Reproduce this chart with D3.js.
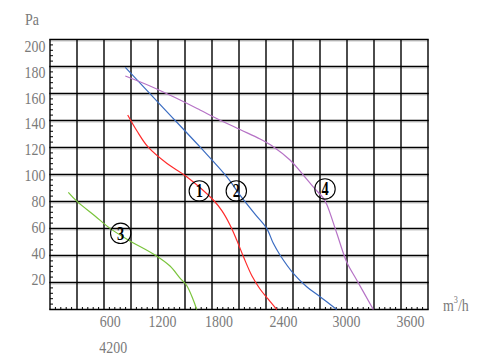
<!DOCTYPE html>
<html>
<head>
<meta charset="utf-8">
<script src="https://cdn.jsdelivr.net/npm/d3@7/dist/d3.min.js"></script>
<style>
  html, body { margin: 0; padding: 0; background: #fff; }
  svg { display: block; }
  text { font-family: "Liberation Serif", "Times New Roman", serif; }
</style>
</head>
<body>
<svg id="chart" width="489" height="360"></svg>
<script>
// ---------------- data ----------------
const xTickLabels = [600, 1200, 1800, 2400, 3000, 3600];
const yTickLabels = [20, 40, 60, 80, 100, 120, 140, 160, 180, 200];
const extraXLabel = "4200";
const yUnit = "Pa";
const xUnit = "m";

const curve1 = [ // red ①
  [777,144.1],[870,132.2],[980,120.4],[1167,108.3],[1367,98.4],[1633,81.1],[1720,73],
  [1800,62.6],[1867,51.5],[1940,38.1],[2020,24.8],[2100,15.2],[2180,7.8],[2267,0]
];
const curve2 = [ // blue ②
  [753,179.4],[1130,149.6],[1500,120.4],[1767,98.4],[1900,84.8],[2050,70.7],[2167,60.1],
  [2233,49],[2300,40.4],[2433,26.8],[2567,16.9],[2700,9.5],[2867,0]
];
const curve3 = [ // green ③
  [183,86.8],[273,79.9],[450,69.3],[600,60.1],[783,51.5],[1050,40.4],[1200,32.2],
  [1300,23.3],[1367,17.8],[1433,7],[1467,0]
];
const curve4 = [ // purple ④
  [753,173],[1000,165.6],[1250,157],[1500,147.8],[1667,141.5],[1900,133.3],[2100,126.3],
  [2233,120.6],[2400,110.7],[2533,99.6],[2650,89.3],[2733,82.6],[2770,77.4],[2867,56.7],
  [2967,35.2],[3067,21.9],[3233,0]
];
const seriesNames = ["1", "2", "3", "4"];
const seriesColors = ["#ff2b2b", "#3a6cc2", "#7ac43c", "#b672c6"];
const labelAnchors = [[1493,87.8],[1863,87.8],[707,56.4],[2750,89.3]];

// ---------------- layout ----------------
const svg = d3.select("#chart");
const X0 = 50, X1 = 428, Y0 = 309.5, Y1 = 39.5;
const x = d3.scaleLinear().domain([0, 3780]).range([X0, X1]);
const y = d3.scaleLinear().domain([0, 200]).range([Y0, Y1]);
// label placement scales (labels in the reference are not aligned with the grid)
const xLab = d3.scaleLinear().domain(xTickLabels).range([109.7, 162, 218.5, 283, 346, 410]);
const yLab = d3.scaleLinear().domain([20, 200]).range([278.5, 45.5]);

const textColor = "#7a7a7a";
const FONT = "Liberation Serif";
const sx = 0.82;

// grid
const vGrid = d3.range(0, 15).map(i => i * 270);
const hGrid = d3.range(0, 220, 20);

const g = svg.append("g");
g.selectAll("line.hs").data(hGrid.filter(v => v > 0)).join("line")
  .attr("x1", X0).attr("x2", X1)
  .attr("y1", d => y(d) + 1.6).attr("y2", d => y(d) + 1.6)
  .attr("stroke", "#cfcfcf").attr("stroke-width", 1);
g.selectAll("line.h").data(hGrid).join("line")
  .attr("x1", X0 - 0.7).attr("x2", X1 + 0.7)
  .attr("y1", d => y(d)).attr("y2", d => y(d))
  .attr("stroke", "#000").attr("stroke-width", 1.4);
g.selectAll("line.v").data(vGrid).join("line")
  .attr("x1", d => x(d)).attr("x2", d => x(d))
  .attr("y1", Y1).attr("y2", Y0)
  .attr("stroke", "#000").attr("stroke-width", 1.4);

// minor ticks
const bottomMinor = [];
vGrid.slice(0, -1).forEach(v => { for (let k = 1; k < 5; k++) bottomMinor.push(v + k * 54); });
g.selectAll("line.bm").data(bottomMinor).join("line")
  .attr("x1", d => x(d)).attr("x2", d => x(d))
  .attr("y1", Y0).attr("y2", Y0 - 2.5)
  .attr("stroke", "#000").attr("stroke-width", 1);
const leftMinor = [];
hGrid.slice(0, -1).forEach(v => { for (let k = 1; k < 5; k++) leftMinor.push(v + k * 4); });
g.selectAll("line.lm").data(leftMinor).join("line")
  .attr("x1", X0).attr("x2", X0 + 3)
  .attr("y1", d => y(d)).attr("y2", d => y(d))
  .attr("stroke", "#000").attr("stroke-width", 1);

// curves
const line = d3.line().x(d => x(d[0])).y(d => y(d[1])).curve(d3.curveCatmullRom.alpha(0.5));
const allCurves = [curve1, curve2, curve3, curve4];
svg.append("g").selectAll("path").data(allCurves).join("path")
  .attr("d", line)
  .attr("fill", "none")
  .attr("stroke", (d, i) => seriesColors[i])
  .attr("stroke-width", 1.2);

// circled labels
const lab = svg.append("g").selectAll("g").data(labelAnchors).join("g")
  .attr("transform", d => `translate(${x(d[0])},${y(d[1])})`);
lab.append("circle").attr("r", 10.2).attr("fill", "none").attr("stroke", "#000").attr("stroke-width", 1.1);
lab.append("text")
  .attr("transform", "scale(0.8,1)")
  .attr("text-anchor", "middle").attr("dy", "0.35em")
  .attr("font-family", FONT)
  .attr("font-size", 18).attr("font-weight", "bold").attr("fill", "#000")
  .text((d, i) => seriesNames[i]);

// y axis labels
const yAxis = svg.append("g").call(d3.axisLeft(yLab).tickValues(yTickLabels).tickSize(0));
yAxis.select(".domain").remove();
yAxis.attr("font-family", FONT);
yAxis.selectAll("text")
  .attr("x", 0).attr("dy", "0.34em")
  .attr("transform", `translate(45.5,0) scale(${sx},1)`)
  .attr("text-anchor", "end")
  .attr("font-family", FONT).attr("font-size", 17).attr("fill", textColor);

// x axis labels
const xAxis = svg.append("g").call(d3.axisBottom(xLab).tickValues(xTickLabels).tickFormat(d3.format("d")).tickSize(0));
xAxis.select(".domain").remove();
xAxis.attr("font-family", FONT);
xAxis.selectAll("text")
  .attr("y", 327).attr("dy", 0)
  .attr("transform", `scale(${sx},1)`)
  .attr("font-family", FONT).attr("font-size", 17).attr("fill", textColor);

svg.append("text")
  .attr("transform", `translate(113.3,352.7) scale(${sx},1)`)
  .attr("text-anchor", "middle")
  .attr("font-family", FONT)
  .attr("font-size", 17).attr("fill", textColor)
  .text(extraXLabel);

// units
svg.append("text")
  .attr("transform", `translate(25,25) scale(${sx},1)`)
  .attr("font-family", FONT)
  .attr("font-size", 17).attr("fill", textColor)
  .text(yUnit);
const u = svg.append("text")
  .attr("transform", `translate(443,311) scale(${sx},1)`)
  .attr("font-family", FONT)
  .attr("font-size", 17).attr("fill", textColor);
u.append("tspan").text(xUnit);
u.append("tspan").attr("font-size", 10).attr("dy", -8).text("3");
u.append("tspan").attr("dy", 8).text("/h");
</script>
</body>
</html>
